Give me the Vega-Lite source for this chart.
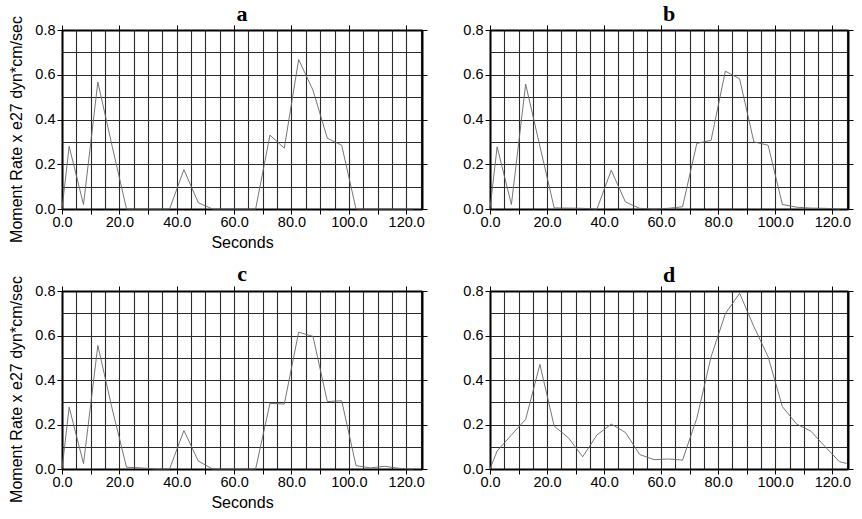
{
  "$schema": "https://vega.github.io/schema/vega-lite/v6.json",
  "padding": {"left": 8, "top": 2, "right": 4, "bottom": 4},
  "config": {
    "font": "Liberation Sans",
    "view": {"stroke": null},
    "axis": {"labelFontSize": 14.5, "labelColor": "black", "titleColor": "black", "titleFontSize": 16, "titleFontWeight": "normal", "domainColor": "black", "tickColor": "black", "labelOverlap": false, "labelFlush": false},
    "title": {"font": "Liberation Serif", "fontSize": 22, "fontWeight": "bold", "color": "black"}
  },
  "data": {"values": [
    {"panel":"a","t":0,"rate":0},{"panel":"a","t":2.5,"rate":0.28},{"panel":"a","t":7.5,"rate":0.02},{"panel":"a","t":12.5,"rate":0.567},{"panel":"a","t":17.5,"rate":0.28},{"panel":"a","t":22.5,"rate":0},{"panel":"a","t":27.5,"rate":0},{"panel":"a","t":32.5,"rate":0},{"panel":"a","t":37.5,"rate":0},{"panel":"a","t":42.5,"rate":0.176},{"panel":"a","t":47.5,"rate":0.028},{"panel":"a","t":52.5,"rate":0},{"panel":"a","t":57.5,"rate":0},{"panel":"a","t":62.5,"rate":0},{"panel":"a","t":67.5,"rate":0},{"panel":"a","t":72.5,"rate":0.33},{"panel":"a","t":77.5,"rate":0.272},{"panel":"a","t":82.5,"rate":0.668},{"panel":"a","t":87.5,"rate":0.531},{"panel":"a","t":92.5,"rate":0.316},{"panel":"a","t":97.5,"rate":0.285},{"panel":"a","t":102.5,"rate":0},{"panel":"a","t":107.5,"rate":0},{"panel":"a","t":112.5,"rate":0},{"panel":"a","t":117.5,"rate":0},{"panel":"a","t":122.5,"rate":0},
    {"panel":"b","t":0,"rate":0},{"panel":"b","t":2.5,"rate":0.278},{"panel":"b","t":7.5,"rate":0.02},{"panel":"b","t":12.5,"rate":0.558},{"panel":"b","t":17.5,"rate":0.28},{"panel":"b","t":22.5,"rate":0.005},{"panel":"b","t":27.5,"rate":0.004},{"panel":"b","t":32.5,"rate":0.003},{"panel":"b","t":37.5,"rate":0},{"panel":"b","t":42.5,"rate":0.173},{"panel":"b","t":47.5,"rate":0.031},{"panel":"b","t":52.5,"rate":0.003},{"panel":"b","t":57.5,"rate":0},{"panel":"b","t":62.5,"rate":0.003},{"panel":"b","t":67.5,"rate":0.01},{"panel":"b","t":72.5,"rate":0.293},{"panel":"b","t":77.5,"rate":0.307},{"panel":"b","t":82.5,"rate":0.616},{"panel":"b","t":87.5,"rate":0.582},{"panel":"b","t":92.5,"rate":0.3},{"panel":"b","t":97.5,"rate":0.285},{"panel":"b","t":102.5,"rate":0.02},{"panel":"b","t":107.5,"rate":0.008},{"panel":"b","t":112.5,"rate":0.004},{"panel":"b","t":117.5,"rate":0.003},{"panel":"b","t":122.5,"rate":0},
    {"panel":"c","t":0,"rate":0},{"panel":"c","t":2.5,"rate":0.278},{"panel":"c","t":7.5,"rate":0.024},{"panel":"c","t":12.5,"rate":0.555},{"panel":"c","t":17.5,"rate":0.27},{"panel":"c","t":22.5,"rate":0.008},{"panel":"c","t":27.5,"rate":0.005},{"panel":"c","t":32.5,"rate":0},{"panel":"c","t":37.5,"rate":0},{"panel":"c","t":42.5,"rate":0.173},{"panel":"c","t":47.5,"rate":0.036},{"panel":"c","t":52.5,"rate":0},{"panel":"c","t":57.5,"rate":0},{"panel":"c","t":62.5,"rate":0},{"panel":"c","t":67.5,"rate":0},{"panel":"c","t":72.5,"rate":0.295},{"panel":"c","t":77.5,"rate":0.292},{"panel":"c","t":82.5,"rate":0.615},{"panel":"c","t":87.5,"rate":0.596},{"panel":"c","t":92.5,"rate":0.303},{"panel":"c","t":97.5,"rate":0.307},{"panel":"c","t":102.5,"rate":0.015},{"panel":"c","t":107.5,"rate":0.005},{"panel":"c","t":112.5,"rate":0.012},{"panel":"c","t":117.5,"rate":0.003},{"panel":"c","t":122.5,"rate":0},
    {"panel":"d","t":0,"rate":0},{"panel":"d","t":2.5,"rate":0.081},{"panel":"d","t":7.5,"rate":0.153},{"panel":"d","t":12.5,"rate":0.223},{"panel":"d","t":17.5,"rate":0.47},{"panel":"d","t":22.5,"rate":0.193},{"panel":"d","t":27.5,"rate":0.14},{"panel":"d","t":32.5,"rate":0.055},{"panel":"d","t":37.5,"rate":0.153},{"panel":"d","t":42.5,"rate":0.202},{"panel":"d","t":47.5,"rate":0.164},{"panel":"d","t":52.5,"rate":0.065},{"panel":"d","t":57.5,"rate":0.042},{"panel":"d","t":62.5,"rate":0.045},{"panel":"d","t":67.5,"rate":0.04},{"panel":"d","t":72.5,"rate":0.228},{"panel":"d","t":77.5,"rate":0.504},{"panel":"d","t":82.5,"rate":0.698},{"panel":"d","t":87.5,"rate":0.79},{"panel":"d","t":92.5,"rate":0.64},{"panel":"d","t":97.5,"rate":0.504},{"panel":"d","t":102.5,"rate":0.28},{"panel":"d","t":107.5,"rate":0.202},{"panel":"d","t":112.5,"rate":0.17},{"panel":"d","t":117.5,"rate":0.1},{"panel":"d","t":122.5,"rate":0.033},{"panel":"d","t":125,"rate":0.025}
  ]},
  "columns": 2,
  "spacing": {"row": 82, "column": 68},
  "bounds": "flush",
  "concat": [
    {
      "width": 360, "height": 179,
      "title": {"text": "a", "offset": -10},
      "transform": [{"filter": "datum.panel == 'a'"}],
      "layer": [
        {"mark": {"type": "line", "color": "#666", "strokeWidth": 0.9},
         "encoding": {
           "x": {"field": "t", "type": "quantitative", "scale": {"domain": [0, 125.5], "nice": false, "zero": false},
                 "axis": {"orient": "bottom", "title": "Seconds", "titlePadding": 6, "values": [0,5,10,15,20,25,30,35,40,45,50,55,60,65,70,75,80,85,90,95,100,105,110,115,120,125], "grid": true, "gridColor": "#2a2a2a", "gridWidth": 1.1, "tickSize": 5, "tickOpacity": {"condition": {"test": "datum.value % 10 == 0", "value": 1}, "value": 0}, "labelExpr": "datum.value % 20 == 0 ? format(datum.value, '.1f') : ''", "labelPadding": 1, "domainWidth": 2}},
           "y": {"field": "rate", "type": "quantitative", "scale": {"domain": [0, 0.8], "nice": false},
                 "axis": {"orient": "left", "title": "Moment Rate x e27 dyn*cm/sec", "titlePadding": 10, "titleY": 99, "values": [0,0.1,0.2,0.3,0.4,0.5,0.6,0.7,0.8], "grid": true, "gridColor": "#2a2a2a", "gridWidth": 1.1, "tickSize": 5, "tickOpacity": {"condition": {"test": "round(datum.value*10) % 2 == 0", "value": 1}, "value": 0}, "labelExpr": "round(datum.value*10) % 2 == 0 ? format(datum.value, '.1f') : ''", "labelPadding": 2, "domainWidth": 2}}
         }},
        {"mark": {"type": "line", "opacity": 0},
         "encoding": {
           "x": {"field": "t", "type": "quantitative", "axis": {"orient": "top", "title": null, "labels": false, "grid": false, "values": [0,20,40,60,80,100,120], "tickSize": 5, "domainWidth": 2}},
           "y": {"field": "rate", "type": "quantitative", "axis": {"orient": "right", "title": null, "labels": false, "grid": false, "values": [0,0.2,0.4,0.6,0.8], "tickSize": 5, "domainWidth": 2}}
         }}
      ],
      "resolve": {"axis": {"x": "independent", "y": "independent"}}
    },
    {
      "width": 358, "height": 179,
      "title": {"text": "b", "offset": -4},
      "transform": [{"filter": "datum.panel == 'b'"}],
      "layer": [
        {"mark": {"type": "line", "color": "#666", "strokeWidth": 0.9},
         "encoding": {
           "x": {"field": "t", "type": "quantitative", "scale": {"domain": [0, 125.5], "nice": false, "zero": false},
                 "axis": {"orient": "bottom", "title": null, "values": [0,5,10,15,20,25,30,35,40,45,50,55,60,65,70,75,80,85,90,95,100,105,110,115,120,125], "grid": true, "gridColor": "#2a2a2a", "gridWidth": 1.1, "tickSize": 5, "tickOpacity": {"condition": {"test": "datum.value % 10 == 0", "value": 1}, "value": 0}, "labelExpr": "datum.value % 20 == 0 ? format(datum.value, '.1f') : ''", "labelPadding": 1, "domainWidth": 2}},
           "y": {"field": "rate", "type": "quantitative", "scale": {"domain": [0, 0.8], "nice": false},
                 "axis": {"orient": "left", "title": null, "values": [0,0.1,0.2,0.3,0.4,0.5,0.6,0.7,0.8], "grid": true, "gridColor": "#2a2a2a", "gridWidth": 1.1, "tickSize": 5, "tickOpacity": {"condition": {"test": "round(datum.value*10) % 2 == 0", "value": 1}, "value": 0}, "labelExpr": "round(datum.value*10) % 2 == 0 ? format(datum.value, '.1f') : ''", "labelPadding": 2, "domainWidth": 2}}
         }},
        {"mark": {"type": "line", "opacity": 0},
         "encoding": {
           "x": {"field": "t", "type": "quantitative", "axis": {"orient": "top", "title": null, "labels": false, "grid": false, "values": [0,20,40,60,80,100,120], "tickSize": 5, "domainWidth": 2}},
           "y": {"field": "rate", "type": "quantitative", "axis": {"orient": "right", "title": null, "labels": false, "grid": false, "values": [0,0.2,0.4,0.6,0.8], "tickSize": 5, "domainWidth": 2}}
         }}
      ],
      "resolve": {"axis": {"x": "independent", "y": "independent"}}
    },
    {
      "width": 360, "height": 178,
      "title": {"text": "c", "offset": -10},
      "transform": [{"filter": "datum.panel == 'c'"}],
      "layer": [
        {"mark": {"type": "line", "color": "#666", "strokeWidth": 0.9},
         "encoding": {
           "x": {"field": "t", "type": "quantitative", "scale": {"domain": [0, 125.5], "nice": false, "zero": false},
                 "axis": {"orient": "bottom", "title": "Seconds", "titlePadding": 6, "values": [0,5,10,15,20,25,30,35,40,45,50,55,60,65,70,75,80,85,90,95,100,105,110,115,120,125], "grid": true, "gridColor": "#2a2a2a", "gridWidth": 1.1, "tickSize": 5, "tickOpacity": {"condition": {"test": "datum.value % 10 == 0", "value": 1}, "value": 0}, "labelExpr": "datum.value % 20 == 0 ? format(datum.value, '.1f') : ''", "labelPadding": 1, "domainWidth": 2}},
           "y": {"field": "rate", "type": "quantitative", "scale": {"domain": [0, 0.8], "nice": false},
                 "axis": {"orient": "left", "title": "Moment Rate x e27 dyn*cm/sec", "titlePadding": 10, "titleY": 98, "values": [0,0.1,0.2,0.3,0.4,0.5,0.6,0.7,0.8], "grid": true, "gridColor": "#2a2a2a", "gridWidth": 1.1, "tickSize": 5, "tickOpacity": {"condition": {"test": "round(datum.value*10) % 2 == 0", "value": 1}, "value": 0}, "labelExpr": "round(datum.value*10) % 2 == 0 ? format(datum.value, '.1f') : ''", "labelPadding": 2, "domainWidth": 2}}
         }},
        {"mark": {"type": "line", "opacity": 0},
         "encoding": {
           "x": {"field": "t", "type": "quantitative", "axis": {"orient": "top", "title": null, "labels": false, "grid": false, "values": [0,20,40,60,80,100,120], "tickSize": 5, "domainWidth": 2}},
           "y": {"field": "rate", "type": "quantitative", "axis": {"orient": "right", "title": null, "labels": false, "grid": false, "values": [0,0.2,0.4,0.6,0.8], "tickSize": 5, "domainWidth": 2}}
         }}
      ],
      "resolve": {"axis": {"x": "independent", "y": "independent"}}
    },
    {
      "width": 358, "height": 178,
      "title": {"text": "d", "offset": -4},
      "transform": [{"filter": "datum.panel == 'd'"}],
      "layer": [
        {"mark": {"type": "line", "color": "#666", "strokeWidth": 0.9},
         "encoding": {
           "x": {"field": "t", "type": "quantitative", "scale": {"domain": [0, 125.5], "nice": false, "zero": false},
                 "axis": {"orient": "bottom", "title": null, "values": [0,5,10,15,20,25,30,35,40,45,50,55,60,65,70,75,80,85,90,95,100,105,110,115,120,125], "grid": true, "gridColor": "#2a2a2a", "gridWidth": 1.1, "tickSize": 5, "tickOpacity": {"condition": {"test": "datum.value % 10 == 0", "value": 1}, "value": 0}, "labelExpr": "datum.value % 20 == 0 ? format(datum.value, '.1f') : ''", "labelPadding": 1, "domainWidth": 2}},
           "y": {"field": "rate", "type": "quantitative", "scale": {"domain": [0, 0.8], "nice": false},
                 "axis": {"orient": "left", "title": null, "values": [0,0.1,0.2,0.3,0.4,0.5,0.6,0.7,0.8], "grid": true, "gridColor": "#2a2a2a", "gridWidth": 1.1, "tickSize": 5, "tickOpacity": {"condition": {"test": "round(datum.value*10) % 2 == 0", "value": 1}, "value": 0}, "labelExpr": "round(datum.value*10) % 2 == 0 ? format(datum.value, '.1f') : ''", "labelPadding": 2, "domainWidth": 2}}
         }},
        {"mark": {"type": "line", "opacity": 0},
         "encoding": {
           "x": {"field": "t", "type": "quantitative", "axis": {"orient": "top", "title": null, "labels": false, "grid": false, "values": [0,20,40,60,80,100,120], "tickSize": 5, "domainWidth": 2}},
           "y": {"field": "rate", "type": "quantitative", "axis": {"orient": "right", "title": null, "labels": false, "grid": false, "values": [0,0.2,0.4,0.6,0.8], "tickSize": 5, "domainWidth": 2}}
         }}
      ],
      "resolve": {"axis": {"x": "independent", "y": "independent"}}
    }
  ]
}
